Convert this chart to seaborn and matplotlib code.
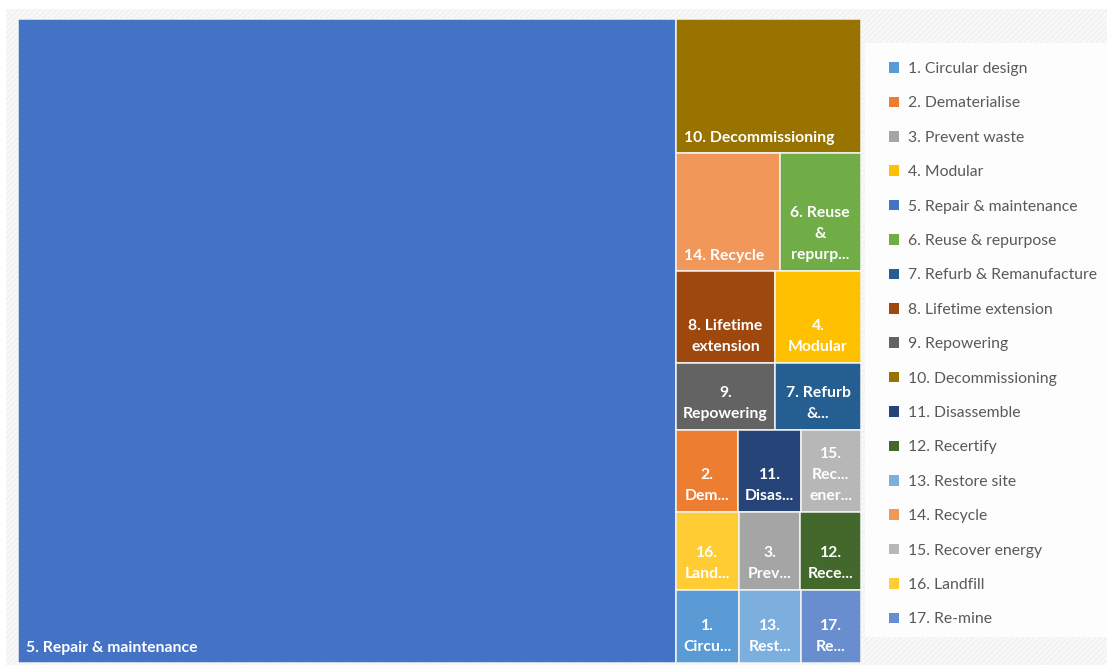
import matplotlib
matplotlib.use("Agg")
import matplotlib.pyplot as plt
from matplotlib.patches import Rectangle, Patch
import seaborn as sns

sns.set_theme(style="white")
plt.rcParams["font.family"] = ["Lato", "DejaVu Sans"]
plt.rcParams["hatch.linewidth"] = 0.6

# Circular-economy strategies and their share of the total (%)
strategies = [
    "1. Circular design", "2. Dematerialise", "3. Prevent waste", "4. Modular",
    "5. Repair & maintenance", "6. Reuse & repurpose", "7. Refurb & Remanufacture",
    "8. Lifetime extension", "9. Repowering", "10. Decommissioning",
    "11. Disassemble", "12. Recertify", "13. Restore site", "14. Recycle",
    "15. Recover energy", "16. Landfill", "17. Re-mine",
]
share = [0.85, 0.95, 0.89, 1.45, 78.0, 1.77, 1.06, 1.69, 1.23, 4.58,
         0.94, 0.87, 0.83, 2.26, 0.91, 0.905, 0.81]
tile_labels = [
    "1.\nCircu...", "2.\nDem...", "3.\nPrev...", "4.\nModular",
    "5. Repair & maintenance", "6. Reuse\n&\nrepurp...", "7. Refurb\n&...",
    "8. Lifetime\nextension", "9.\nRepowering", "10. Decommissioning",
    "11.\nDisas...", "12.\nRece...", "13.\nRest...", "14. Recycle",
    "15.\nRec...\nener...", "16.\nLand...", "17.\nRe...",
]
colors = [
    "#5B9BD5", "#ED7D31", "#A5A5A5", "#FFC000", "#4472C4", "#70AD47",
    "#255E91", "#9E480E", "#636363", "#997300", "#264478", "#43682B",
    "#7CAFDD", "#F1975A", "#B7B7B7", "#FFCD33", "#698ED0",
]


def worst_ratio(row, side):
    s = sum(row)
    return max(max(side * side * r / (s * s), (s * s) / (side * side * r)) for r in row)


def treemap(areas, x, y, w, h):
    """Squarified strips: the first strip runs along the short side of the
    box, every later strip is a row across the remaining width."""
    rects = []
    i = 0
    first = True
    while i < len(areas):
        vertical = first and w >= h
        side = h if vertical else w
        row = [areas[i]]
        j = i + 1
        while j < len(areas) and worst_ratio(row + [areas[j]], side) <= worst_ratio(row, side):
            row.append(areas[j])
            j += 1
        thick = sum(row) / side
        pos = y if vertical else x
        for a in row:
            length = a / thick
            if vertical:
                rects.append((x, pos, thick, length))
            else:
                rects.append((pos, y, length, thick))
            pos += length
        if vertical:
            x += thick
            w -= thick
        else:
            y += thick
            h -= thick
        i = j
        first = False
    return rects


W_PX, H_PX = 1107, 665
fig = plt.figure(figsize=(W_PX / 100, H_PX / 100), dpi=100)
fig.patch.set_facecolor("white")

# chart-area background with a faint diagonal texture
fig.patches.append(Rectangle((6 / W_PX, 0), 1 - 6 / W_PX, 1 - 9 / H_PX,
                             transform=fig.transFigure, facecolor="#f8f8f8",
                             edgecolor="#ededed", hatch="//////", lw=0, zorder=-10))
# legend panel
fig.patches.append(Rectangle((865 / W_PX, 1 - 637 / H_PX), 1 - 865 / W_PX, (637 - 43) / H_PX,
                             transform=fig.transFigure, facecolor="#fdfdfd",
                             edgecolor="none", lw=0, zorder=-9))

left, right, top, bottom = 18, 861, 19, 663
ax = fig.add_axes([left / W_PX, 1 - bottom / H_PX, (right - left) / W_PX, (bottom - top) / H_PX])
ax.set_axis_off()

box_w = (right - left) / (bottom - top)
box_h = 1.0
ax.set_xlim(0, box_w)
ax.set_ylim(box_h, 0)

order = sorted(range(len(share)), key=lambda k: -share[k])
total = sum(share)
areas = [share[k] / total * box_w * box_h for k in order]
rects = treemap(areas, 0, 0, box_w, box_h)

LABEL_SIZE = 11.3
for k, (x, y, w, h) in zip(order, rects):
    ax.add_patch(Rectangle((x, y), w, h, facecolor=colors[k], edgecolor="#f4f4f4", lw=1.1))
    lab = tile_labels[k]
    if "\n" in lab:
        ax.annotate(lab, xy=(x + w / 2, y + h), xytext=(0, 9), textcoords="offset pixels",
                    ha="center", va="bottom", color="white", fontsize=LABEL_SIZE,
                    fontweight="bold", linespacing=1.62, multialignment="center")
    else:
        ax.annotate(lab, xy=(x, y + h), xytext=(8, 8), textcoords="offset pixels",
                    ha="left", va="bottom", color="white", fontsize=LABEL_SIZE,
                    fontweight="bold")

handles = [Patch(facecolor=c, edgecolor="none", label=s) for s, c in zip(strategies, colors)]
leg = fig.legend(handles=handles, loc="upper left",
                 bbox_to_anchor=(889 / W_PX, 1 - 62 / H_PX), frameon=False,
                 fontsize=11.3, handlelength=0.65, handleheight=0.65,
                 handletextpad=0.55, labelspacing=1.30, borderpad=0, borderaxespad=0)
for t in leg.get_texts():
    t.set_color("#595959")

fig.savefig("out.png", dpi=100)
